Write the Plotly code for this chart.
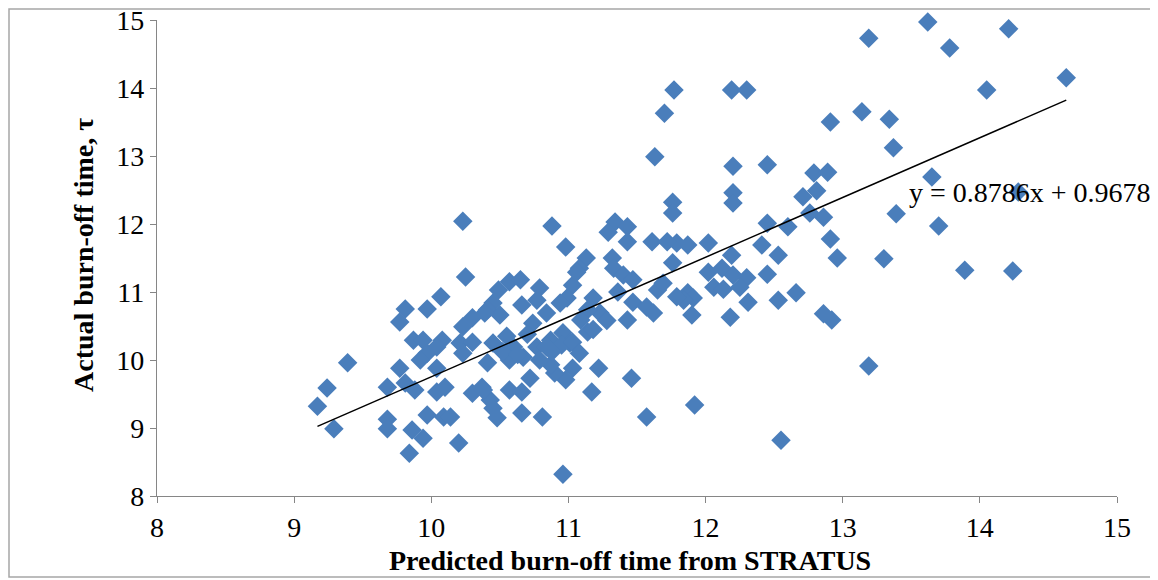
import plotly.graph_objects as go
import numpy as np

# Predicted burn-off time from STRATUS (x) and actual burn-off time (y)
x_pred = [
    13.62, 14.21, 13.19, 13.78, 14.63, 14.05,
    11.77, 12.19, 12.30, 11.70, 11.63, 11.76,
    12.91, 13.14, 13.34, 13.37, 13.65,
    12.20, 12.45, 12.79, 12.89, 12.20, 12.81, 12.71, 12.20,
    14.28, 13.39, 13.70, 13.30, 13.89, 14.24, 13.19,
    11.76, 12.76, 12.86, 12.45, 12.60, 12.91, 11.79, 11.87, 12.02, 12.41, 12.19, 12.53,
    12.96, 11.76, 12.02, 12.12, 12.20, 12.30, 12.45, 12.06, 12.13, 12.25, 11.87, 11.91,
    11.84, 12.31, 12.53, 12.66, 11.90, 12.18, 12.86, 12.92,
    11.92, 12.55,
    10.88, 10.98, 11.13, 11.08, 11.03, 11.06, 11.34, 11.29, 11.43, 11.43, 11.61, 11.72,
    11.32, 11.33, 11.40, 11.47, 11.36, 11.47, 11.57, 11.65, 11.69, 11.79, 11.43, 11.62,
    11.18, 11.23, 11.14, 10.99, 10.94, 10.79, 10.77, 10.66, 10.57, 10.49, 10.65, 10.45,
    10.41, 10.50, 10.74, 10.84, 11.09, 11.14, 10.96, 10.87, 10.45, 10.60, 10.77, 11.01,
    10.23, 10.25, 10.07, 9.81, 9.97, 9.77, 10.23, 10.30, 10.39, 9.87, 9.94, 10.08, 10.21, 10.30,
    9.39, 9.24, 9.17, 9.29, 9.68, 9.68, 9.68, 9.77, 9.86, 9.94, 9.84, 10.20, 9.97, 10.09,
    10.14, 10.04, 10.10, 9.88, 9.81, 10.30, 10.37, 9.97, 10.04, 10.04, 10.23, 9.92,
    11.22, 11.46, 11.17, 11.57, 10.96, 10.66, 10.81, 10.48, 10.45, 10.43, 10.38, 10.57,
    10.66, 10.72, 11.03, 10.98, 10.90, 10.87, 10.79, 10.67, 10.57, 10.41, 10.84, 10.95, 11.03,
    10.52, 10.63, 10.88, 11.08, 11.18, 11.28, 10.55, 10.70,
]
y_act = [
    14.97, 14.87, 14.73, 14.59, 14.15, 13.97,
    13.97, 13.97, 13.97, 13.63, 12.99, 12.32,
    13.50, 13.65, 13.54, 13.12, 12.69,
    12.85, 12.87, 12.75, 12.76, 12.46, 12.49, 12.40, 12.31,
    12.47, 12.15, 11.97, 11.49, 11.32, 11.31, 9.91,
    12.16, 12.16, 12.10, 12.01, 11.96, 11.78, 11.72, 11.69, 11.72, 11.69, 11.54, 11.54,
    11.50, 11.43, 11.29, 11.35, 11.25, 11.21, 11.26, 11.07, 11.04, 11.07, 10.99, 10.91,
    10.88, 10.85, 10.88, 10.99, 10.66, 10.63, 10.68, 10.59,
    9.34, 8.82,
    11.97, 11.66, 11.50, 11.35, 11.10, 11.29, 12.03, 11.88, 11.96, 11.74, 11.74, 11.74,
    11.50, 11.35, 11.25, 11.18, 11.00, 10.85, 10.78, 11.03, 11.13, 10.93, 10.59, 10.69,
    10.91, 10.69, 10.74, 10.91, 10.84, 11.06, 10.88, 10.81, 11.15, 11.03, 11.18, 10.84,
    10.74, 10.66, 10.54, 10.69, 10.59, 10.41, 10.40, 10.29, 10.25, 10.19, 10.19, 10.25,
    12.04, 11.22, 10.93, 10.75, 10.75, 10.56, 10.49, 10.62, 10.69, 10.29, 10.29, 10.29, 10.25, 10.26,
    9.96, 9.59, 9.32, 8.99, 9.60, 9.13, 8.99, 9.88, 8.97, 8.85, 8.63, 8.78, 9.19, 9.16,
    9.16, 9.53, 9.60, 9.56, 9.66, 9.51, 9.60, 10.10, 10.19, 9.88, 10.10, 10.00,
    9.88, 9.73, 9.53, 9.16, 8.32, 9.22, 9.16, 9.15, 9.29, 9.41, 9.56, 9.56,
    9.53, 9.73, 9.88, 9.71, 9.81, 9.93, 10.00, 10.04, 10.00, 9.96, 10.19, 10.22, 10.26,
    10.12, 10.08, 10.12, 10.10, 10.45, 10.58, 10.35, 10.38,
]

slope = 0.8786
intercept = 0.9678
equation_text = "y = 0.8786x + 0.9678"

x_ticks = [8, 9, 10, 11, 12, 13, 14, 15]
y_ticks = [8, 9, 10, 11, 12, 13, 14, 15]

FONT = "Liberation Serif, Times New Roman, serif"
BLUE = "#4A7EBB"
AXIS = "#868686"

trend_x = np.array([min(x_pred), max(x_pred)])
trend_y = slope * trend_x + intercept

fig = go.Figure()
fig.add_trace(go.Scatter(
    x=x_pred, y=y_act, mode="markers",
    marker=dict(symbol="diamond", size=15, color=BLUE, line=dict(width=0)),
    showlegend=False, hoverinfo="x+y", cliponaxis=False,
))
fig.add_trace(go.Scatter(
    x=trend_x, y=trend_y, mode="lines",
    line=dict(color="black", width=1.5),
    showlegend=False, hoverinfo="skip",
))

# page body has an 8px margin; the figure div is offset by (8, 8)
OFF = 8
W, H = 1150, 572
ml, mr, mt, mb = 157 - OFF, 41, 20 - OFF, 84
pw, ph = W - ml - mr, H - mt - mb


def px_to_paper_x(px):
    return (px - OFF - ml) / pw


def px_to_paper_y(py):
    return (H - mb - (py - OFF)) / ph


fig.add_annotation(
    x=13.47, y=12.46, xref="x", yref="y", text=equation_text,
    showarrow=False, xanchor="left", yanchor="middle",
    font=dict(family=FONT, size=28, color="black"),
)
fig.add_annotation(
    x=px_to_paper_x(83), y=px_to_paper_y(255), xref="paper", yref="paper",
    text="<b>Actual burn-off time, τ</b>", textangle=-90, showarrow=False,
    xanchor="center", yanchor="middle",
    font=dict(family=FONT, size=28, color="black"),
)
fig.add_annotation(
    x=px_to_paper_x(630), y=px_to_paper_y(560), xref="paper", yref="paper",
    text="<b>Predicted burn-off time from STRATUS</b>", showarrow=False,
    xanchor="center", yanchor="middle",
    font=dict(family=FONT, size=28, color="black"),
)
# outer chart border
fig.add_shape(
    type="rect", xref="paper", yref="paper",
    x0=px_to_paper_x(9), x1=px_to_paper_x(1154),
    y0=px_to_paper_y(577), y1=px_to_paper_y(9),
    line=dict(color="#A6A6A6", width=1.5), fillcolor="rgba(0,0,0,0)",
    layer="below",
)

axis_common = dict(
    showgrid=False, zeroline=False, showline=True, linecolor=AXIS, linewidth=1.3,
    ticks="outside", ticklen=6, tickcolor=AXIS, tickwidth=1.3,
    tickfont=dict(family=FONT, size=28, color="black"),
    ticklabeloverflow="allow", automargin=False,
)
fig.update_xaxes(range=[8, 15], tickvals=x_ticks, **axis_common)
fig.update_yaxes(range=[8, 15], tickvals=y_ticks, **axis_common)

fig.update_layout(
    width=W, height=H,
    margin=dict(l=ml, r=mr, t=mt, b=mb, autoexpand=False),
    paper_bgcolor="white", plot_bgcolor="white",
)

fig.write_html("out.html")
